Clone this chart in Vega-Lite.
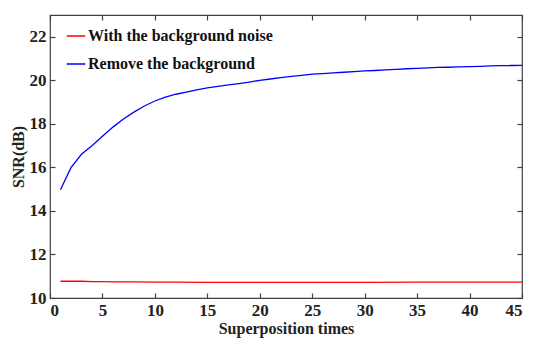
{
  "$schema": "https://vega.github.io/schema/vega-lite/v6.json",
  "width": 472,
  "height": 283,
  "autosize": {"type": "none"},
  "padding": {"left": 50, "top": 15, "right": 28, "bottom": 49},
  "background": "white",
  "config": {
    "view": {"stroke": "#404040", "strokeWidth": 1.2},
    "font": "Liberation Serif",
    "axis": {
      "labelFont": "Liberation Serif",
      "titleFont": "Liberation Serif",
      "labelFontWeight": "bold",
      "titleFontWeight": "bold",
      "labelFontSize": 17,
      "titleFontSize": 16,
      "labelColor": "#222",
      "titleColor": "#222",
      "domain": false,
      "grid": false,
      "tickColor": "#404040",
      "tickSize": -5,
      "tickWidth": 1.2
    }
  },
  "data": {
    "values": [
      {"x": 1, "y": 14.97, "s": "Remove the background"},
      {"x": 2, "y": 15.99, "s": "Remove the background"},
      {"x": 3, "y": 16.6, "s": "Remove the background"},
      {"x": 4, "y": 16.99, "s": "Remove the background"},
      {"x": 5, "y": 17.43, "s": "Remove the background"},
      {"x": 6, "y": 17.85, "s": "Remove the background"},
      {"x": 7, "y": 18.22, "s": "Remove the background"},
      {"x": 8, "y": 18.54, "s": "Remove the background"},
      {"x": 9, "y": 18.82, "s": "Remove the background"},
      {"x": 10, "y": 19.05, "s": "Remove the background"},
      {"x": 11, "y": 19.23, "s": "Remove the background"},
      {"x": 12, "y": 19.36, "s": "Remove the background"},
      {"x": 13, "y": 19.46, "s": "Remove the background"},
      {"x": 14, "y": 19.56, "s": "Remove the background"},
      {"x": 15, "y": 19.65, "s": "Remove the background"},
      {"x": 16, "y": 19.72, "s": "Remove the background"},
      {"x": 17, "y": 19.79, "s": "Remove the background"},
      {"x": 18, "y": 19.85, "s": "Remove the background"},
      {"x": 19, "y": 19.92, "s": "Remove the background"},
      {"x": 20, "y": 20.0, "s": "Remove the background"},
      {"x": 21, "y": 20.06, "s": "Remove the background"},
      {"x": 22, "y": 20.12, "s": "Remove the background"},
      {"x": 23, "y": 20.18, "s": "Remove the background"},
      {"x": 24, "y": 20.23, "s": "Remove the background"},
      {"x": 25, "y": 20.28, "s": "Remove the background"},
      {"x": 26, "y": 20.31, "s": "Remove the background"},
      {"x": 27, "y": 20.34, "s": "Remove the background"},
      {"x": 28, "y": 20.37, "s": "Remove the background"},
      {"x": 29, "y": 20.4, "s": "Remove the background"},
      {"x": 30, "y": 20.43, "s": "Remove the background"},
      {"x": 31, "y": 20.45, "s": "Remove the background"},
      {"x": 32, "y": 20.48, "s": "Remove the background"},
      {"x": 33, "y": 20.5, "s": "Remove the background"},
      {"x": 34, "y": 20.53, "s": "Remove the background"},
      {"x": 35, "y": 20.55, "s": "Remove the background"},
      {"x": 36, "y": 20.57, "s": "Remove the background"},
      {"x": 37, "y": 20.59, "s": "Remove the background"},
      {"x": 38, "y": 20.6, "s": "Remove the background"},
      {"x": 39, "y": 20.62, "s": "Remove the background"},
      {"x": 40, "y": 20.63, "s": "Remove the background"},
      {"x": 41, "y": 20.64, "s": "Remove the background"},
      {"x": 42, "y": 20.66, "s": "Remove the background"},
      {"x": 43, "y": 20.67, "s": "Remove the background"},
      {"x": 44, "y": 20.68, "s": "Remove the background"},
      {"x": 45, "y": 20.69, "s": "Remove the background"},
      {"x": 1, "y": 10.77, "s": "With the background noise"},
      {"x": 2, "y": 10.77, "s": "With the background noise"},
      {"x": 3, "y": 10.77, "s": "With the background noise"},
      {"x": 4, "y": 10.75, "s": "With the background noise"},
      {"x": 5, "y": 10.75, "s": "With the background noise"},
      {"x": 6, "y": 10.74, "s": "With the background noise"},
      {"x": 8, "y": 10.74, "s": "With the background noise"},
      {"x": 10, "y": 10.73, "s": "With the background noise"},
      {"x": 12, "y": 10.73, "s": "With the background noise"},
      {"x": 15, "y": 10.72, "s": "With the background noise"},
      {"x": 20, "y": 10.72, "s": "With the background noise"},
      {"x": 25, "y": 10.72, "s": "With the background noise"},
      {"x": 30, "y": 10.72, "s": "With the background noise"},
      {"x": 35, "y": 10.73, "s": "With the background noise"},
      {"x": 40, "y": 10.73, "s": "With the background noise"},
      {"x": 45, "y": 10.73, "s": "With the background noise"}
    ]
  },
  "layer": [
    {
      "mark": {"type": "line", "strokeWidth": 1.3},
      "encoding": {
        "x": {
          "field": "x", "type": "quantitative",
          "scale": {"domain": [0, 45], "nice": false},
          "axis": {"orient": "bottom", "values": [0, 5, 10, 15, 20, 25, 30, 35, 40, 45], "title": "Superposition times", "labelPadding": 9, "titlePadding": 2}
        },
        "y": {
          "field": "y", "type": "quantitative",
          "scale": {"domain": [10, 23], "nice": false, "zero": false},
          "axis": {"orient": "left", "values": [10, 12, 14, 16, 18, 20, 22], "title": "SNR(dB)", "labelPadding": 9, "titlePadding": 3}
        },
        "color": {
          "field": "s", "type": "nominal",
          "scale": {"domain": ["With the background noise", "Remove the background"], "range": ["#ff0000", "#0000ff"]},
          "legend": {
            "orient": "none", "legendX": 16, "legendY": 11, "title": null,
            "symbolType": "stroke", "symbolSize": 340, "symbolStrokeWidth": 1.5,
            "labelFont": "Liberation Serif", "labelFontWeight": "bold", "labelFontSize": 16,
            "labelColor": "#111", "rowPadding": 10, "labelOffset": 2, "labelLimit": 400
          }
        }
      }
    },
    {
      "mark": {"type": "line", "strokeOpacity": 0},
      "encoding": {
        "x": {
          "field": "x", "type": "quantitative",
          "scale": {"domain": [0, 45], "nice": false},
          "axis": {"orient": "top", "values": [0, 5, 10, 15, 20, 25, 30, 35, 40, 45], "labels": false, "title": null}
        },
        "y": {
          "field": "y", "type": "quantitative",
          "scale": {"domain": [10, 23], "nice": false, "zero": false},
          "axis": {"orient": "right", "values": [10, 12, 14, 16, 18, 20, 22], "labels": false, "title": null}
        },
        "detail": {"field": "s", "type": "nominal"}
      }
    }
  ],
  "resolve": {"axis": {"x": "independent", "y": "independent"}}
}
